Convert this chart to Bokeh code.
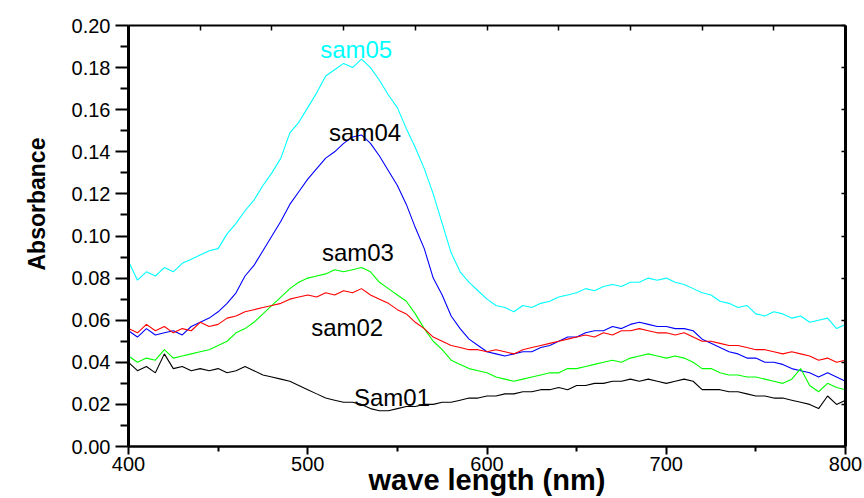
from bokeh.plotting import figure
from bokeh.models import (LinearAxis, FixedTicker, Label, Range1d, PrintfTickFormatter, Title)
from bokeh.embed import file_html
from bokeh.resources import INLINE

# ---------------- data (5 nm steps) ----------------
wavelength = list(range(400, 805, 5))

sam05 = [0.088, 0.079, 0.083, 0.081, 0.085, 0.083, 0.087, 0.089, 0.091, 0.093,
         0.094, 0.101, 0.106, 0.112, 0.117, 0.124, 0.130, 0.137, 0.149, 0.154,
         0.161, 0.168, 0.176, 0.179, 0.182, 0.180, 0.184, 0.180, 0.174, 0.167,
         0.161, 0.151, 0.142, 0.132, 0.120, 0.106, 0.092, 0.083, 0.078, 0.074,
         0.070, 0.067, 0.066, 0.064, 0.067, 0.066, 0.068, 0.069, 0.071, 0.072,
         0.073, 0.075, 0.074, 0.076, 0.077, 0.076, 0.078, 0.078, 0.080, 0.079,
         0.080, 0.078, 0.077, 0.075, 0.073, 0.072, 0.069, 0.068, 0.066, 0.067,
         0.063, 0.062, 0.064, 0.063, 0.061, 0.062, 0.059, 0.060, 0.061, 0.056,
         0.058]

sam04 = [0.055, 0.052, 0.056, 0.053, 0.054, 0.055, 0.053, 0.057, 0.059, 0.061,
         0.064, 0.068, 0.073, 0.081, 0.086, 0.093, 0.100, 0.107, 0.115, 0.121,
         0.127, 0.132, 0.137, 0.140, 0.144, 0.147, 0.148, 0.144, 0.138, 0.131,
         0.124, 0.115, 0.104, 0.094, 0.080, 0.072, 0.062, 0.056, 0.051, 0.048,
         0.045, 0.044, 0.043, 0.044, 0.045, 0.045, 0.047, 0.048, 0.050, 0.052,
         0.052, 0.054, 0.055, 0.055, 0.057, 0.056, 0.058, 0.059, 0.058, 0.057,
         0.057, 0.056, 0.056, 0.055, 0.051, 0.049, 0.047, 0.045, 0.044, 0.042,
         0.042, 0.040, 0.040, 0.039, 0.037, 0.036, 0.035, 0.033, 0.035, 0.033,
         0.031]

sam03 = [0.043, 0.040, 0.042, 0.041, 0.046, 0.042, 0.043, 0.044, 0.045, 0.046,
         0.048, 0.050, 0.054, 0.056, 0.059, 0.063, 0.067, 0.071, 0.075, 0.078,
         0.080, 0.081, 0.082, 0.084, 0.083, 0.084, 0.085, 0.083, 0.078, 0.075,
         0.072, 0.069, 0.063, 0.056, 0.050, 0.046, 0.041, 0.039, 0.037, 0.036,
         0.035, 0.033, 0.032, 0.031, 0.032, 0.033, 0.034, 0.035, 0.035, 0.037,
         0.037, 0.038, 0.039, 0.040, 0.041, 0.040, 0.042, 0.043, 0.044, 0.043,
         0.042, 0.043, 0.042, 0.040, 0.037, 0.037, 0.035, 0.034, 0.034, 0.033,
         0.033, 0.032, 0.031, 0.030, 0.032, 0.037, 0.029, 0.026, 0.030, 0.028,
         0.027]

sam02 = [0.056, 0.054, 0.058, 0.055, 0.057, 0.054, 0.056, 0.055, 0.059, 0.057,
         0.058, 0.061, 0.062, 0.064, 0.065, 0.066, 0.067, 0.068, 0.070, 0.071,
         0.072, 0.071, 0.073, 0.072, 0.074, 0.073, 0.075, 0.072, 0.070, 0.068,
         0.065, 0.063, 0.059, 0.056, 0.052, 0.050, 0.048, 0.047, 0.046, 0.046,
         0.045, 0.046, 0.045, 0.044, 0.046, 0.047, 0.048, 0.049, 0.050, 0.051,
         0.052, 0.053, 0.052, 0.054, 0.053, 0.055, 0.055, 0.056, 0.055, 0.054,
         0.054, 0.053, 0.054, 0.052, 0.050, 0.050, 0.049, 0.048, 0.048, 0.047,
         0.046, 0.046, 0.045, 0.044, 0.045, 0.044, 0.043, 0.041, 0.042, 0.040,
         0.041]

sam01 = [0.040, 0.036, 0.038, 0.035, 0.044, 0.037, 0.038, 0.036, 0.037, 0.036,
         0.037, 0.035, 0.036, 0.038, 0.036, 0.034, 0.033, 0.032, 0.031, 0.029,
         0.027, 0.025, 0.023, 0.022, 0.021, 0.021, 0.020, 0.018, 0.017, 0.017,
         0.018, 0.019, 0.019, 0.020, 0.020, 0.021, 0.021, 0.022, 0.023, 0.023,
         0.024, 0.024, 0.025, 0.025, 0.026, 0.026, 0.027, 0.027, 0.028, 0.027,
         0.029, 0.029, 0.030, 0.030, 0.031, 0.031, 0.032, 0.031, 0.032, 0.031,
         0.030, 0.031, 0.032, 0.031, 0.027, 0.027, 0.027, 0.026, 0.026, 0.025,
         0.024, 0.024, 0.023, 0.023, 0.022, 0.021, 0.020, 0.018, 0.024, 0.020,
         0.022]

series_names = ["sam05", "sam04", "sam03", "sam02", "Sam01"]
series_values = [sam05, sam04, sam03, sam02, sam01]
series_colors = ["#00FFFF", "#0000FF", "#00FF00", "#FF0000", "#000000"]
series_label_colors = ["#00FFFF", "#000000", "#000000", "#000000", "#000000"]
# label anchor positions (data units)
label_x = [527, 532, 528, 522, 547]
label_y = [0.1885, 0.1494, 0.0922, 0.0567, 0.0232]

x_ticks = [400, 500, 600, 700, 800]
y_ticks = [0.00, 0.02, 0.04, 0.06, 0.08, 0.10, 0.12, 0.14, 0.16, 0.18, 0.20]
top_ticks = list(range(400, 801, 40))

FONT = "Liberation Sans"

p = figure(width=864, height=498, output_backend="svg", toolbar_location=None,
           x_range=Range1d(400, 800), y_range=Range1d(0, 0.20),
           x_axis_location=None, y_axis_location=None,
           min_border_left=128, min_border_right=19,
           min_border_top=25, min_border_bottom=50)
p.title.visible = False
p.outline_line_color = None
p.xgrid.visible = False
p.ygrid.visible = False
p.background_fill_color = "white"
p.border_fill_color = "white"

for name, vals, col in zip(series_names, series_values, series_colors):
    p.line(wavelength, vals, line_color=col, line_width=1.1)

# left axis
ly = LinearAxis(ticker=FixedTicker(ticks=y_ticks,
                                   minor_ticks=[0.01 + 0.02 * i for i in range(10)]),
                formatter=PrintfTickFormatter(format="%.2f"))
ly.axis_line_width = 3
ly.major_tick_line_width = 2
ly.minor_tick_line_width = 2
ly.major_tick_out = 13
ly.major_tick_in = 0
ly.minor_tick_out = 8
ly.minor_tick_in = 0
ly.major_label_standoff = 5
ly.major_label_text_font = FONT
ly.major_label_text_font_size = "20px"
ly.major_label_text_color = "black"
p.add_layout(ly, "left")

# bottom axis
bx = LinearAxis(ticker=FixedTicker(ticks=x_ticks, minor_ticks=[450, 550, 650, 750]),
                axis_label="wave length (nm)")
bx.axis_line_width = 2.5
bx.major_tick_line_width = 2
bx.minor_tick_line_width = 2
bx.major_tick_out = 8
bx.major_tick_in = 0
bx.minor_tick_out = 5
bx.minor_tick_in = 0
bx.major_label_standoff = 2
bx.major_label_text_font = FONT
bx.major_label_text_font_size = "20px"
bx.major_label_text_color = "black"
bx.axis_label_text_font = FONT
bx.axis_label_text_font_style = "bold"
bx.axis_label_text_font_size = "29px"
bx.axis_label_text_color = "black"
bx.axis_label_standoff = -10
p.add_layout(bx, "below")

# top axis (ticks inward, no labels)
tx = LinearAxis(ticker=FixedTicker(ticks=top_ticks, minor_ticks=[]))
tx.major_label_overrides = {t: "" for t in top_ticks}
tx.axis_line_width = 2
tx.major_tick_line_width = 1.5
tx.major_tick_out = 0
tx.major_tick_in = 5
tx.minor_tick_out = 0
tx.minor_tick_in = 0
tx.major_label_standoff = 0
tx.major_label_text_font_size = "8px"
p.add_layout(tx, "above")

# right axis (ticks inward, no labels)
ry = LinearAxis(ticker=FixedTicker(ticks=y_ticks, minor_ticks=[]))
ry.major_label_overrides = {t: "" for t in y_ticks}
ry.axis_line_width = 3
ry.major_tick_line_width = 1.5
ry.major_tick_out = 0
ry.major_tick_in = 4
ry.minor_tick_out = 0
ry.minor_tick_in = 0
ry.major_label_standoff = 0
ry.major_label_text_font_size = "8px"
p.add_layout(ry, "right")

# series labels
for name, lx, lyv, c in zip(series_names, label_x, label_y, series_label_colors):
    p.add_layout(Label(x=lx, y=lyv, text=name, text_font=FONT,
                       text_font_size="24px", text_color=c,
                       text_align="center", text_baseline="alphabetic"))

# y axis title, placed off-centre as in the reference
ytitle = Title(text="Absorbance", align="left", vertical_align="top",
               offset=176, standoff=34,
               text_font=FONT, text_font_style="bold",
               text_font_size="23px", text_color="black")
p.add_layout(ytitle, "left")

open("out.html", "w").write(file_html(p, INLINE))
